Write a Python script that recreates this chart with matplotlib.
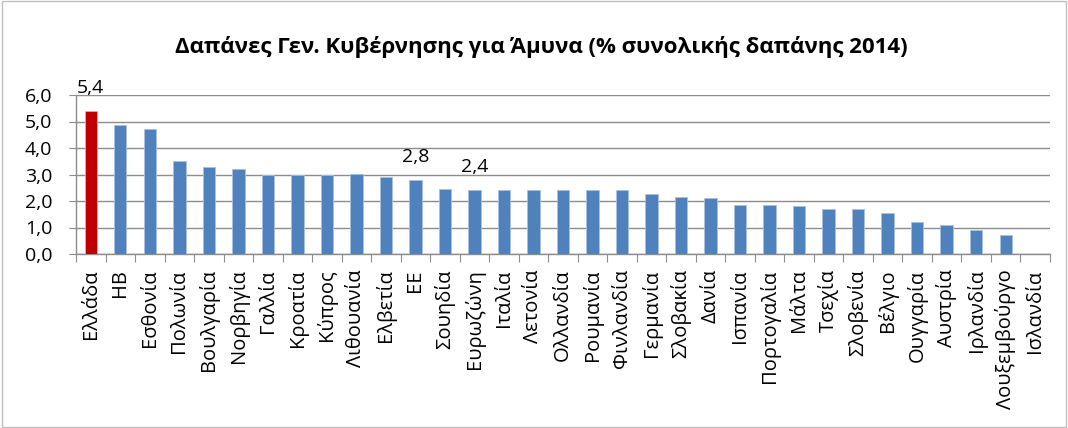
import matplotlib
matplotlib.use("Agg")
import matplotlib.pyplot as plt
from matplotlib.patches import Rectangle

plt.rcParams['font.family'] = ['Open Sans', 'DejaVu Sans']

countries = ["Ελλάδα", "ΗΒ", "Εσθονία", "Πολωνία", "Βουλγαρία", "Νορβηγία", "Γαλλία",
             "Κροατία", "Κύπρος", "Λιθουανία", "Ελβετία", "ΕΕ", "Σουηδία", "Ευρωζώνη",
             "Ιταλία", "Λετονία", "Ολλανδία", "Ρουμανία", "Φινλανδία", "Γερμανία",
             "Σλοβακία", "Δανία", "Ισπανία", "Πορτογαλία", "Μάλτα", "Τσεχία", "Σλοβενία",
             "Βέλγιο", "Ουγγαρία", "Αυστρία", "Ιρλανδία", "Λουξεμβούργο", "Ισλανδία"]
values = [5.4, 4.85, 4.7, 3.5, 3.3, 3.2, 3.0,
          3.0, 3.0, 3.02, 2.9, 2.8, 2.47, 2.4,
          2.4, 2.4, 2.4, 2.4, 2.4, 2.28,
          2.16, 2.1, 1.86, 1.86, 1.8, 1.7, 1.7,
          1.56, 1.2, 1.08, 0.9, 0.72, 0.0]
labeled = ["Ελλάδα", "ΕΕ", "Ευρωζώνη"]
yticks = [0, 1, 2, 3, 4, 5, 6]
title = "Δαπάνες Γεν. Κυβέρνησης για Άμυνα (% συνολικής δαπάνης 2014)"

W, H = 1068, 428
fig = plt.figure(figsize=(W / 100, H / 100), dpi=100)
fig.patches.append(Rectangle((0.002, 0.003), 0.996, 0.994, transform=fig.transFigure,
                             fill=False, edgecolor="#bfbfbf", linewidth=1.0))

ax = fig.add_axes([76 / W, 1 - 254 / H, (1050 - 76) / W, (254 - 95) / H])

colors = ["#C00000" if c == "Ελλάδα" else "#4F81BD" for c in countries]
x = list(range(len(countries)))
ax.bar(x, values, width=0.42, color=colors, edgecolor="#a9c0e0", linewidth=0.6, zorder=3)

ax.set_xlim(-0.5, len(countries) - 0.5)
ax.set_ylim(0, 6)
ax.set_yticks(yticks)
ax.set_yticklabels([f"{v:.1f}".replace(".", ",") for v in yticks], fontsize=14)
ax.yaxis.grid(True, color="#8c8c8c", linewidth=1.0, zorder=0)
ax.tick_params(axis="y", length=5, color="#8c8c8c", pad=12)

ax.set_xticks([i - 0.5 for i in range(len(countries) + 1)], minor=False)
ax.set_xticklabels([])
ax.set_xticks(x, minor=True)
ax.set_xticklabels(countries, minor=True, rotation=90, fontsize=14.5, va="top")
ax.tick_params(axis="x", which="major", length=6, color="#8c8c8c")
ax.tick_params(axis="x", which="minor", length=0, pad=11)

for s in ["top", "right"]:
    ax.spines[s].set_visible(False)
for s in ["left", "bottom"]:
    ax.spines[s].set_color("#8c8c8c")
    ax.spines[s].set_linewidth(1.0)

for i, (c, v) in enumerate(zip(countries, values)):
    if c in labeled:
        ax.annotate(f"{v:.1f}".replace(".", ","), (i, v), xytext=(0, 16.5),
                    textcoords="offset points", ha="center", va="center", fontsize=14)

fig.text(541 / W, 1 - 47 / H, title, ha="center", va="center", fontsize=16, fontweight="bold")

fig.savefig("out.png", dpi=100)
